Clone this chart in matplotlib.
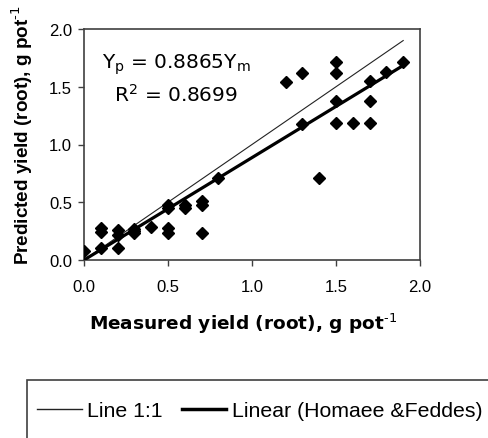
import matplotlib
matplotlib.use("Agg")
import matplotlib.pyplot as plt
from matplotlib.patches import Rectangle
from matplotlib.lines import Line2D
import numpy as np

plt.rcParams['font.family'] = ['Liberation Sans', 'DejaVu Sans']
plt.rcParams['mathtext.fontset'] = 'custom'
plt.rcParams['mathtext.rm'] = 'DejaVu Sans'
plt.rcParams['mathtext.bf'] = 'DejaVu Sans:bold'
plt.rcParams['mathtext.it'] = 'DejaVu Sans'

# Data (measured vs predicted root yield, g pot^-1)
measured = [0.0, 0.1, 0.1, 0.1, 0.2, 0.2, 0.2, 0.3, 0.3, 0.3, 0.4, 0.5, 0.5, 0.5, 0.5,
            0.6, 0.6, 0.7, 0.7, 0.7, 0.8, 1.2, 1.3, 1.3, 1.4, 1.5, 1.5, 1.5, 1.5,
            1.6, 1.7, 1.7, 1.7, 1.8, 1.9]
predicted = [0.08, 0.28, 0.24, 0.10, 0.26, 0.22, 0.10, 0.27, 0.23, 0.25, 0.29, 0.48, 0.45, 0.28, 0.23,
             0.48, 0.45, 0.51, 0.48, 0.23, 0.71, 1.54, 1.62, 1.18, 0.71, 1.71, 1.62, 1.38, 1.19,
             1.19, 1.55, 1.38, 1.19, 1.63, 1.71]
slope = 0.8865
r2 = 0.8699
line_x = [0.0, 1.9]
ticks = [0.0, 0.5, 1.0, 1.5, 2.0]
tick_labels = ['0.0', '0.5', '1.0', '1.5', '2.0']

W, H = 488, 439
fig = plt.figure(figsize=(W / 100, H / 100), dpi=100)
ax = fig.add_axes([84 / W, (H - 261) / H, 336 / W, 231 / H])

lx = np.array(line_x)
ax.plot(lx, lx, color='#222222', lw=0.8, zorder=2)
ax.plot(lx, slope * lx, color='black', lw=2.3, zorder=3)
ax.plot(measured, predicted, linestyle='none', marker='D', markersize=6.3,
        color='black', zorder=4)

ax.set_xlim(0, 2.0)
ax.set_ylim(0, 2.0)
ax.set_xticks(ticks)
ax.set_xticklabels(tick_labels)
ax.set_yticks(ticks)
ax.set_yticklabels(tick_labels)
ax.tick_params(direction='out', length=4.5, width=1, color='#404040',
               labelsize=12)
ax.tick_params(axis='x', pad=9.5)
ax.tick_params(axis='y', pad=4)
for s in ax.spines.values():
    s.set_color('#404040')
    s.set_linewidth(1.2)

ax.text(0.548, 1.662, r'Y$_\mathrm{p}$ = 0.8865Y$_\mathrm{m}$', ha='center', va='baseline',
        fontsize=14.5, family='DejaVu Sans')
ax.text(0.548, 1.377, r'R$^\mathrm{2}$ = %.4f' % r2, ha='center', va='baseline',
        fontsize=14.5, family='DejaVu Sans')

fig.text(243 / W, 1 - 324 / H, r'Measured yield (root), g pot$^{\mathbf{\text{-1}}}$',
         ha='center', va='center', fontsize=13.3, fontweight='bold', family='DejaVu Sans')
fig.text(22 / W, 1 - 135 / H, r'Predicted yield (root), g pot$^{\mathbf{\text{-1}}}$',
         ha='center', va='center', fontsize=13.6, fontweight='bold', rotation=90)

# Legend box (extends beyond the figure edge)
fig.patches.append(Rectangle((27 / W, -0.2), 1.0, (1 - 381 / H) + 0.2,
                             transform=fig.transFigure, fill=False,
                             edgecolor='#404040', lw=1.2))
handles = [Line2D([], [], color='#222222', lw=1.0),
           Line2D([], [], color='black', lw=2.5)]
fig.legend(handles, ['Line 1:1', 'Linear (Homaee &Feddes)'], ncol=2,
           loc='center left', bbox_to_anchor=(37 / W, 1 - 412 / H),
           frameon=False, fontsize=15.3, handlelength=2.1, handletextpad=0.25,
           columnspacing=0.9, borderpad=0, borderaxespad=0)

fig.savefig('out.png', dpi=100)
